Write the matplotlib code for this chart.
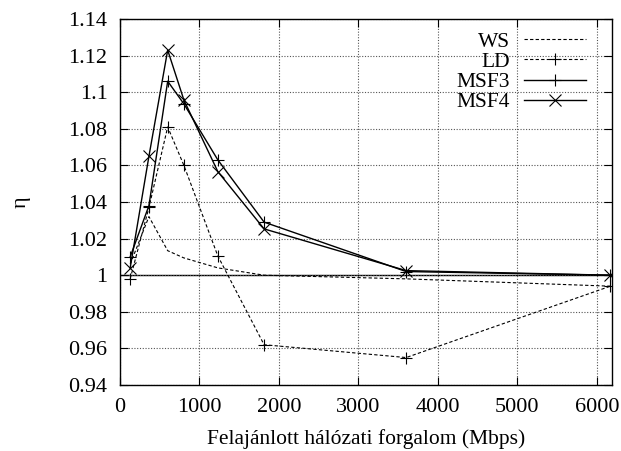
import matplotlib
matplotlib.use('Agg')
import matplotlib.pyplot as plt

plt.rcParams['font.family'] = ['Liberation Serif', 'DejaVu Serif']
plt.rcParams['font.size'] = 16

# offered load (Mbps)
load = [128, 364, 600, 804, 1231, 1813, 3600, 6170]

ws = [1.006, 1.032, 1.0134, 1.0095, 1.004, 1.000, 0.998, 0.994]
ws_x = [128, 364, 600, 800, 1231, 1813, 3600, 6170]
ld = [0.998, 1.037, 1.081, 1.060, 1.0105, 0.962, 0.955, 0.994]
msf3 = [1.010, 1.038, 1.106, 1.0936, 1.063, 1.029, 1.002, 1.000]
msf4 = [1.004, 1.065, 1.123, 1.0957, 1.0566, 1.0253, 1.0025, 1.000]

yticks = [0.94, 0.96, 0.98, 1, 1.02, 1.04, 1.06, 1.08, 1.1, 1.12, 1.14]
ytick_labels = ['0.94', '0.96', '0.98', '1', '1.02', '1.04', '1.06',
                '1.08', '1.1', '1.12', '1.14']
xticks = [0, 1000, 2000, 3000, 4000, 5000, 6000]

fig = plt.figure(figsize=(6.21, 4.51), dpi=100)
ax = fig.add_axes([120 / 621, 1 - 385 / 451, 492 / 621, 366 / 451])

ax.axhline(1.0, color='black', lw=1.0, zorder=1)

ax.plot(ws_x, ws, color='black', ls=(0, (3, 2)), lw=0.8, label='WS')
ax.plot(load, ld, color='black', ls=(0, (3, 2)), lw=0.8, marker='+',
        ms=9, mew=0.8, label='LD')
ax.plot(load, msf3, color='black', ls='-', lw=1.0, marker='+',
        ms=9, mew=0.8, label='MSF3')
ax.plot(load, msf4, color='black', ls='-', lw=1.0, marker='x',
        ms=8, mew=0.8, label='MSF4')

ax.set_xlim(0, 6190)
ax.set_ylim(0.94, 1.14)
ax.set_xticks(xticks)
ax.set_yticks(yticks)
ax.set_yticklabels(ytick_labels)
ax.grid(True, color='#555555', ls=(0, (1, 1.5)), lw=0.8)
ax.tick_params(direction='in', top=True, right=True, length=6, pad=9)
for s in ax.spines.values():
    s.set_linewidth(1.0)

ax.set_xlabel('Felajánlott hálózati forgalom (Mbps)', labelpad=9,
              fontsize=15.5)
ax.set_ylabel('η', rotation=90, labelpad=27)

leg = ax.legend(loc='upper right', bbox_to_anchor=(1, 1 + 13 / 366),
                frameon=False, markerfirst=False,
                handlelength=2.9, handletextpad=0.65, labelspacing=0.0,
                borderaxespad=0.8, fontsize=15.5)
for t in leg.get_texts():
    t.set_ha('right')

fig.savefig('out.png', dpi=100)
